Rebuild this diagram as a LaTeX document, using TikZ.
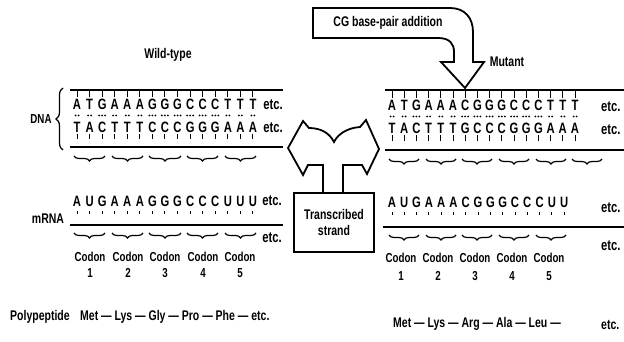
\documentclass[tikz,border=0pt]{standalone}
\usepackage{fontspec}
\setmainfont{Liberation Sans}[FakeStretch=0.75]
\usetikzlibrary{decorations.pathreplacing}

\begin{document}
\begin{tikzpicture}[x=1pt,y=1pt,
    base/.style={font=\bfseries\fontsize{15}{15}\selectfont, inner sep=0pt},
    lbl/.style={font=\bfseries\fontsize{14}{15.5}\selectfont, inner sep=0pt, align=center},
    small/.style={font=\bfseries\fontsize{13}{13}\selectfont, inner sep=0pt},
    backbone/.style={line width=2.2pt},
    tick/.style={line width=1pt},
    codonbrace/.style={decorate, decoration={brace, amplitude=5pt, mirror}, line width=1.2pt},
    outline/.style={line width=1.8pt, line join=miter}]
\useasboundingbox (0,0) rectangle (624,-342);

% ---- wild-type ----
\node[lbl] (wt) at (168,-55) {Wild-type};
\coordinate (wt-a) at (70,-90);  \coordinate (wt-b) at (283,-90);
\coordinate (wt-c) at (70,-147); \coordinate (wt-d) at (283,-147);
\draw[backbone] (wt-a) -- (wt-b);
\draw[backbone] (wt-c) -- (wt-d);
\foreach \t/\b/\h [count=\i from 0] in {A/T/2,T/A/2,G/C/3,A/T/2,A/T/2,A/T/2,G/C/3,G/C/3,G/C/3,C/G/3,C/G/3,C/G/3,T/A/2,T/A/2,T/A/2}{
    \node[base] (wt-t\i) at ({77+12.57*\i},-104) {\t};
    \node[base] (wt-b\i) at ({77+12.57*\i},-127) {\b};
    \draw[tick] ({77+12.57*\i},-91) -- ({77+12.57*\i},-97);
    \draw[tick] ({77+12.57*\i},-134) -- ({77+12.57*\i},-139);
    \foreach \k in {1,...,\h}
        \fill ({77+12.57*\i+(\k-(\h+1)/2)*3},-115.5) circle (1);
}
\node[base] at (273,-105) {etc.};
\node[base] at (273,-128) {etc.};
\draw[decorate, decoration={brace, amplitude=7pt}, line width=1.2pt] (63,-150) -- (63,-88);
\node[small] (dna) at (41,-119) {DNA};
\foreach \a/\b in {74/105,112/143,149/181,187/218,225/256}
    \draw[codonbrace] (\a,-156) -- (\b,-156);

% wild-type message
\node[lbl] (mrna) at (48,-219) {mRNA};
\coordinate (wm-a) at (70,-225); \coordinate (wm-b) at (283,-225);
\draw[backbone] (wm-a) -- (wm-b);
\foreach \t [count=\i from 0] in {A,U,G,A,A,A,G,G,G,C,C,C,U,U,U}{
    \node[base] (wm\i) at ({77+12.57*\i},-201) {\t};
    \draw[tick] ({77+12.57*\i},-211) -- ({77+12.57*\i},-214);
}
\node[base] at (272,-201) {etc.};
\foreach \a/\b in {74/105,112/143,149/181,187/218,225/256}
    \draw[codonbrace] (\a,-233) -- (\b,-233);
\node[base] at (272,-238) {etc.};
\foreach \x [count=\n] in {90,128,165,203,240}{
    \node[small] (wc\n) at (\x,-257) {Codon};
    \node[small] at (\x,-273) {\n};
}
\node[lbl] (pp) at (10,-317) [anchor=west] {Polypeptide};
\node[lbl] (wp) at (80,-317) [anchor=west] {Met --- Lys --- Gly --- Pro --- Phe --- etc.};

% ---- mutant ----
\draw[outline] (313,-8) -- (450,-8) .. controls (465,-8) and (473,-18) .. (473,-32)
    -- (473,-62) -- (484,-62) -- (465,-88) -- (441,-62) -- (454,-62) -- (454,-52)
    .. controls (454,-44) and (450,-38) .. (438,-38) -- (313,-38) -- cycle;
\node[lbl] (cg) at (388,-23) {CG base-pair addition};
\node[lbl] (mut) at (507,-62) {Mutant};
\coordinate (mt-a) at (385,-90);  \coordinate (mt-b) at (624,-90);
\coordinate (mt-c) at (385,-150); \coordinate (mt-d) at (624,-150);
\draw[backbone] (mt-a) -- (mt-b);
\draw[backbone] (mt-c) -- (mt-d);
\foreach \t/\b/\h [count=\i from 0] in {A/T/2,T/A/2,G/C/3,A/T/2,A/T/2,A/T/2,C/G/3,G/C/3,G/C/3,G/C/3,C/G/3,C/G/3,C/G/3,T/A/2,T/A/2,T/A/2}{
    \node[base] (mt-t\i) at ({392+12.2*\i},-105) {\t};
    \node[base] (mt-b\i) at ({392+12.2*\i},-128) {\b};
    \draw[tick] ({392+12.2*\i},-91) -- ({392+12.2*\i},-98);
    \draw[tick] ({392+12.2*\i},-135) -- ({392+12.2*\i},-141);
    \foreach \k in {1,...,\h}
        \fill ({392+12.2*\i+(\k-(\h+1)/2)*3},-116.5) circle (1);
}
\node[base, anchor=west] at (601,-107) {etc.};
\node[base, anchor=west] at (601,-130) {etc.};
\foreach \a/\b in {389/419,426/456,462/492,499/529,536/566,572/602}
    \draw[codonbrace] (\a,-159) -- (\b,-159);

% mutant message
\coordinate (mm-a) at (383,-227); \coordinate (mm-b) at (624,-227);
\draw[backbone] (mm-a) -- (mm-b);
\foreach \t [count=\i from 0] in {A,U,G,A,A,A,C,G,G,G,C,C,C,U,U}{
    \node[base] (mm\i) at ({392+12.3*\i},-202) {\t};
    \draw[tick] ({392+12.3*\i},-212) -- ({392+12.3*\i},-215);
}
\node[base, anchor=west] at (601,-208) {etc.};
\foreach \a/\b in {389/419,426/456,462/492,499/529,536/566}
    \draw[codonbrace] (\a,-235) -- (\b,-235);
\node[base, anchor=west] at (601,-246) {etc.};
\foreach \x [count=\n] in {401,438,475,512,549}{
    \node[small] (mc\n) at (\x,-258) {Codon};
    \node[small] at (\x,-276) {\n};
}
\node[lbl, anchor=west] (mp) at (393,-324) {Met --- Lys --- Arg --- Ala --- Leu ---};
\node[lbl, anchor=west] at (601,-325) {etc.};

% ---- transcription ----
\draw[outline] (323,-193) -- (323,-165) -- (308,-165) -- (303,-175) -- (288,-148)
    -- (303,-121) -- (309,-128) .. controls (322,-128) and (330,-134) .. (334,-142)
    .. controls (338,-134) and (347,-128) .. (360,-127) -- (366,-120) -- (379,-149)
    -- (367,-174) -- (362,-165) -- (343,-165) -- (343,-193);
\node[lbl, draw, line width=1.4pt, minimum width=80pt, minimum height=59pt] (ts) at (334,-222.5) {Transcribed\\strand};
\end{tikzpicture}
\end{document}
